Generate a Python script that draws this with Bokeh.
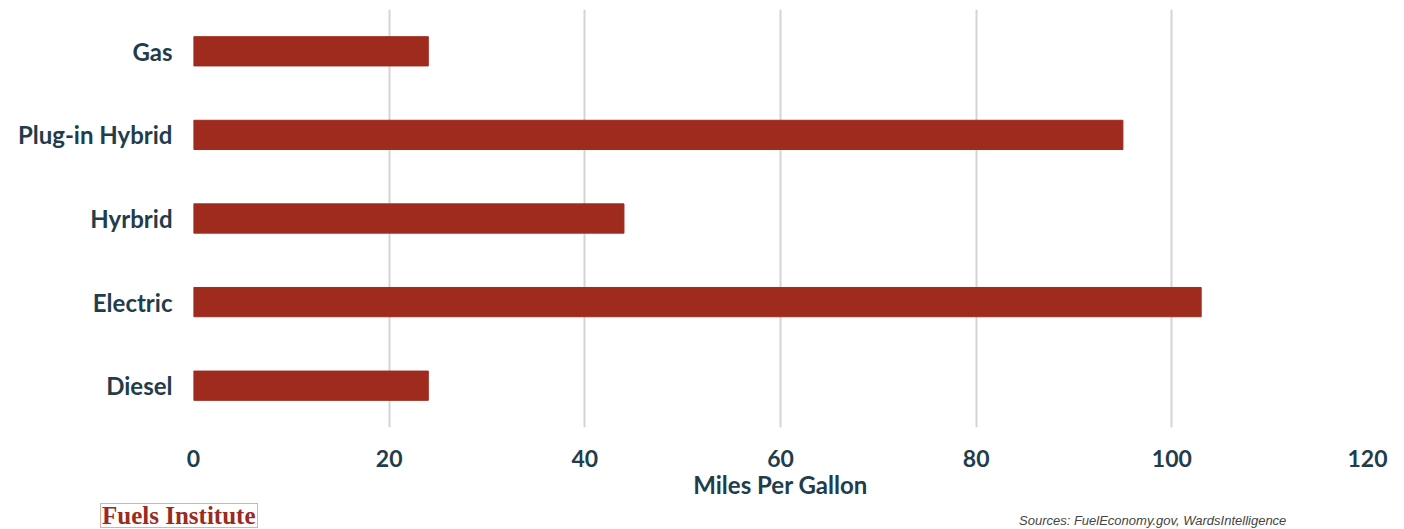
from bokeh.plotting import figure
from bokeh.models import FactorRange, Range1d, Div
from bokeh.layouts import column, row
from bokeh.embed import file_html
from bokeh.resources import INLINE

categories = ["Gas", "Plug-in Hybrid", "Hyrbrid", "Electric", "Diesel"]
mpg = [24, 95, 44, 103, 24]
x_ticks = [0, 20, 40, 60, 80, 100, 120]

BAR = "#9f2b1e"
TXT = "#1f3d4b"

p = figure(width=1404, height=503, output_backend="svg", toolbar_location=None,
           y_range=FactorRange(factors=list(reversed(categories))),
           x_range=Range1d(0, 120),
           min_border_left=193, min_border_right=37, min_border_top=9, min_border_bottom=76)
p.outline_line_color = None
p.hbar(y=categories, right=mpg, left=0, height=0.35, color=BAR)

p.xgrid.ticker = x_ticks
p.xgrid.grid_line_color = "#d4d4d4"
p.xgrid.grid_line_width = 2
p.ygrid.grid_line_color = None
p.xaxis.ticker = x_ticks
for ax in (p.xaxis[0], p.yaxis[0]):
    ax.axis_line_color = None
    ax.major_tick_line_color = None
    ax.minor_tick_line_color = None
    ax.major_label_text_font = "Lato"
    ax.major_label_text_font_style = "bold"
    ax.major_label_text_color = TXT
p.xaxis.major_label_text_font_size = "23px"
p.yaxis.major_label_text_font_size = "24px"
p.xaxis.major_label_standoff = 16
p.yaxis.major_label_standoff = 15
p.xaxis.axis_label = "Miles Per Gallon"
p.xaxis.axis_label_text_font = "Lato"
p.xaxis.axis_label_text_font_style = "bold"
p.xaxis.axis_label_text_font_size = "24px"
p.xaxis.axis_label_text_color = TXT
p.xaxis.axis_label_standoff = 0

logo = Div(text="Fuels Institute", width=158, height=25, margin=(0, 0, 0, 100),
           styles={"font-family": "Liberation Serif", "font-weight": "bold",
                   "font-size": "25px", "line-height": "23px", "color": "#9b2b22",
                   "border": "1px solid #e0b0a8", "white-space": "nowrap",
                   "box-sizing": "border-box", "padding": "0 1px", "overflow": "hidden"})
src = Div(text="Sources: FuelEconomy.gov, WardsIntelligence", width=300, height=16,
          margin=(10, 0, 0, 761),
          styles={"font-family": "Liberation Sans", "font-style": "italic",
                  "font-size": "13px", "line-height": "16px", "color": "#444444",
                  "white-space": "nowrap"})
foot = row(logo, src, width=1404, height=26, spacing=0)

open("out.html", "w").write(file_html(column(p, foot, spacing=0), INLINE))
